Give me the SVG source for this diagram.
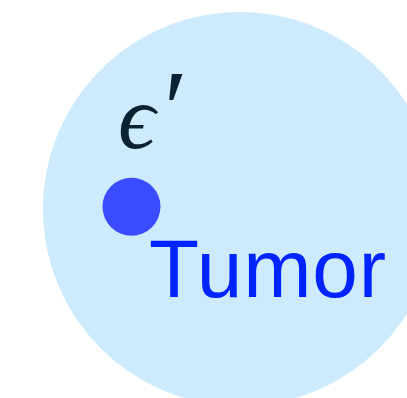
<svg xmlns="http://www.w3.org/2000/svg" width="407" height="398" viewBox="0 0 407 398">
<style>
.bg{fill:#cdebfd}
.dot{fill:#3b4bff}
.lbl{font-family:"Liberation Sans",Arial,sans-serif;font-size:82px;fill:#0024ff}
.eps{font-family:"Liberation Serif","DejaVu Serif",serif;font-style:italic;fill:#0b2233}
</style>
<rect width="407" height="398" fill="#ffffff"/>
<g id="region"><circle class="bg" cx="240" cy="209" r="197"/></g>
<g id="label-eps"><text class="eps" x="118" y="148" font-size="92">ϵ<tspan font-size="110" dx="2" dy="-2">′</tspan></text></g>
<g id="tumor"><circle class="dot" cx="131.5" cy="206.7" r="29"/><text class="lbl" x="149" y="296.5" textLength="237" lengthAdjust="spacing">Tumor</text></g>
<g id="connectors"></g>
</svg>
